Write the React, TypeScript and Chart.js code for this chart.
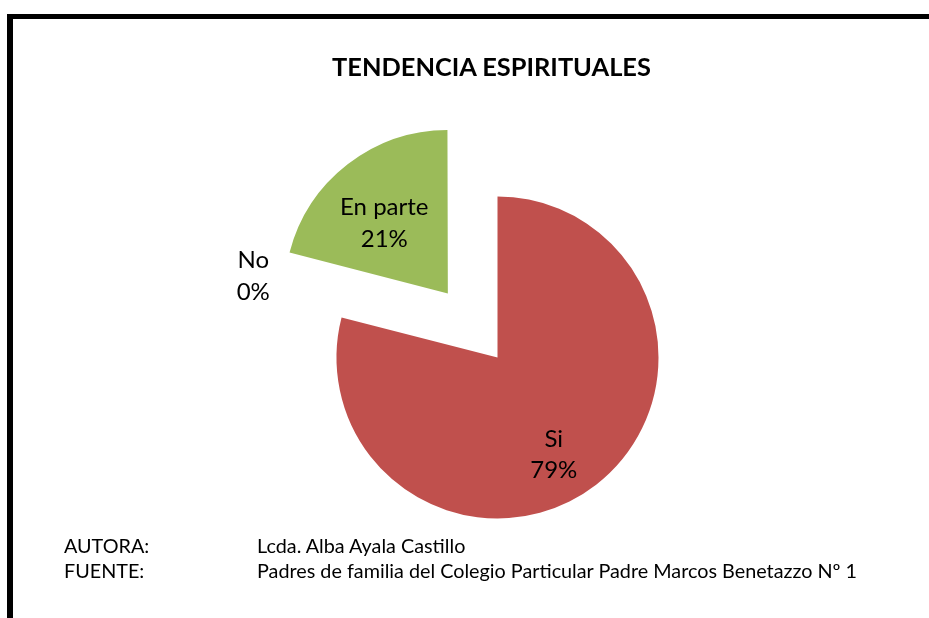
import React, { useEffect, useRef } from "react";
import { Chart, registerables } from "chart.js";

Chart.register(...registerables);

// ---- data ----
const categories = ["Si", "No", "En parte"];
const percentages = [79, 0, 21];
const titleText = "TENDENCIA ESPIRITUALES";
const footerLabels = ["AUTORA:", "FUENTE:"];
const footerValues = [
  "Lcda. Alba Ayala Castillo",
  "Padres de familia del Colegio Particular Padre Marcos Benetazzo Nº 1",
];

// ---- style ----
const sliceColors = ["#C0504D", "#4F81BD", "#9BBB59"];
const sliceExplode = [0, 0, 324]; // Chart.js arc offset (translation = offset / 4)
const labelRadiusFactor = [0.695, 1.6, 0.59];
const labelAngleShiftDeg = [7.6, 4.1, -4.2];
const FONT = "Lato, 'Open Sans', sans-serif";
const LABEL_SIZE = 24;

const labelPlugin = {
  id: "sliceLabels",
  afterDatasetsDraw(chart: any) {
    const meta = chart.getDatasetMeta(0);
    const ctx = chart.ctx as CanvasRenderingContext2D;
    ctx.save();
    ctx.font = `${LABEL_SIZE}px ${FONT}`;
    ctx.fillStyle = "#000000";
    ctx.textAlign = "center";
    ctx.textBaseline = "alphabetic";
    meta.data.forEach((arc: any, i: number) => {
      const p = arc.getProps(["x", "y", "startAngle", "endAngle", "outerRadius"], true);
      const mid = (p.startAngle + p.endAngle) / 2;
      const off = (arc.options.offset || 0) / 4;
      const cx = p.x + Math.cos(mid) * off;
      const cy = p.y + Math.sin(mid) * off;
      const a = mid + (labelAngleShiftDeg[i] * Math.PI) / 180;
      const r = p.outerRadius * labelRadiusFactor[i];
      const lx = cx + Math.cos(a) * r;
      const ly = cy + Math.sin(a) * r;
      ctx.fillText(categories[i], lx, ly - 7.5);
      ctx.fillText(`${percentages[i]}%`, lx, ly + 24);
    });
    ctx.restore();
  },
};

export default function App() {
  const canvasRef = useRef<HTMLCanvasElement | null>(null);

  useEffect(() => {
    if (!canvasRef.current) return;
    const chart = new Chart(canvasRef.current, {
      type: "pie",
      data: {
        labels: categories,
        datasets: [
          {
            data: percentages,
            backgroundColor: sliceColors,
            borderWidth: 0,
            offset: sliceExplode,
          },
        ],
      },
      options: {
        responsive: false,
        animation: false,
        radius: 161,
        layout: { padding: { left: 100, right: 34, top: 130, bottom: 33 } },
        plugins: {
          legend: { display: false },
          title: { display: false },
          tooltip: { enabled: false },
        },
      } as any,
      plugins: [labelPlugin],
    });
    return () => chart.destroy();
  }, []);

  return (
    <div
      style={{
        position: "fixed",
        left: 0,
        top: 0,
        width: 929,
        height: 618,
        overflow: "hidden",
        background: "#ffffff",
      }}
    >
      <div
        style={{
          position: "absolute",
          left: 7,
          top: 14,
          width: 1000,
          height: 700,
          borderTop: "5px solid #000",
          borderLeft: "6px solid #000",
          boxSizing: "border-box",
        }}
      />
      <canvas
        ref={canvasRef}
        width={929}
        height={618}
        style={{ position: "absolute", left: 0, top: 0, width: 929, height: 618 }}
      />
      <div
        style={{
          position: "absolute",
          left: 0,
          top: 51,
          width: 983,
          textAlign: "center",
          fontFamily: FONT,
          fontWeight: 700,
          fontSize: 25.4,
          lineHeight: "30px",
          color: "#000",
          whiteSpace: "nowrap",
        }}
      >
        {titleText}
      </div>
      {footerLabels.map((lab, i) => (
        <div
          key={lab}
          style={{
            position: "absolute",
            top: 533 + i * 24.5,
            left: 0,
            fontFamily: FONT,
            fontSize: 19.8,
            lineHeight: "24px",
            color: "#000",
            whiteSpace: "nowrap",
          }}
        >
          <span style={{ position: "absolute", left: 64 }}>{lab}</span>
          <span style={{ position: "absolute", left: 257 }}>{footerValues[i]}</span>
        </div>
      ))}
    </div>
  );
}
